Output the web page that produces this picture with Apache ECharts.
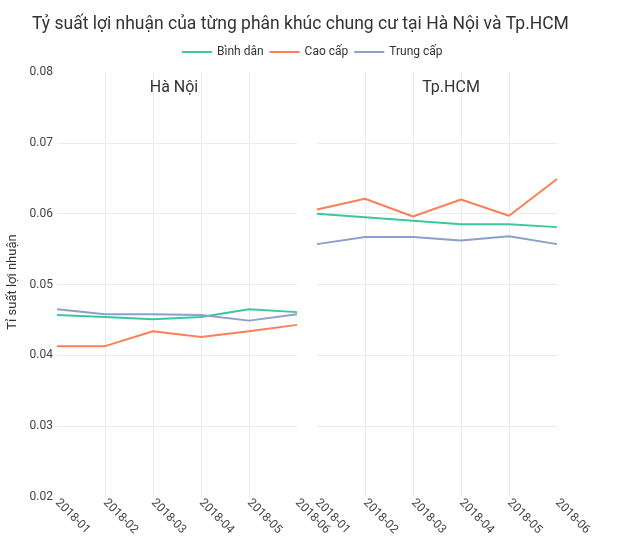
<!DOCTYPE html>
<html>
<head>
<meta charset="utf-8">
<script src="https://cdn.jsdelivr.net/npm/echarts@6/dist/echarts.min.js"></script>
<style>
html,body{margin:0;padding:0;background:#fff;}
#chart{width:644px;height:552px;}
</style>
</head>
<body>
<div id="chart"></div>
<script>
const categories = ['2018-01','2018-02','2018-03','2018-04','2018-05','2018-06'];
const seriesNames = ['Bình dân','Cao cấp','Trung cấp'];
const panelNames = ['Hà Nội','Tp.HCM'];
const hnBinhDan = [0.0457,0.0454,0.0451,0.0454,0.0465,0.0461];
const hnCaoCap = [0.0413,0.0413,0.0434,0.0426,0.0434,0.0443];
const hnTrungCap = [0.0465,0.0458,0.0458,0.0457,0.0449,0.0458];
const hcmBinhDan = [0.0600,0.0595,0.0590,0.0585,0.0585,0.0581];
const hcmCaoCap = [0.0606,0.0621,0.0596,0.0620,0.0597,0.0649];
const hcmTrungCap = [0.0557,0.0567,0.0567,0.0562,0.0568,0.0557];
const yTicks = [0.02,0.03,0.04,0.05,0.06,0.07,0.08];

const colors = ['#3cc89c','#fc8056','#8d9fcd'];
const FONT = 'Roboto';
const gridColor = '#ebebeb';

const chart = echarts.init(document.getElementById('chart'), null, {renderer:'canvas'});

function xAxis(gi){
  return {
    type:'category', gridIndex:gi, data:categories, boundaryGap:false,
    axisLine:{show:false}, axisTick:{show:false},
    axisLabel:{rotate:-45, color:'#444', fontFamily:FONT, fontSize:12, margin:4, interval:0},
    splitLine:{show:true, showMinLine:false, showMaxLine:false, lineStyle:{color:gridColor, width:1}}
  };
}
function yAxis(gi){
  return {
    type:'value', gridIndex:gi, min:yTicks[0], max:yTicks[yTicks.length-1], interval:0.01,
    name: gi===0 ? 'Tỉ suất lợi nhuận' : '',
    nameLocation:'middle', nameGap:38,
    nameTextStyle:{color:'#333', fontFamily:FONT, fontSize:13, padding:[0,0,0,5]},
    axisLine:{show:false}, axisTick:{show:false},
    axisLabel:{show: gi===0, color:'#444', fontFamily:FONT, fontSize:12, margin:4,
      formatter:v=>v.toFixed(2)},
    splitLine:{show:true, showMinLine:false, showMaxLine:false, lineStyle:{color:gridColor, width:1}}
  };
}
const hn = [hnBinhDan, hnCaoCap, hnTrungCap];
const hcm = [hcmBinhDan, hcmCaoCap, hcmTrungCap];
const series = [];
[hn, hcm].forEach((panel, gi) => {
  panel.forEach((arr, si) => {
    series.push({
      type:'line', name:seriesNames[si], xAxisIndex:gi, yAxisIndex:gi,
      data:arr, showSymbol:false, symbol:'none',
      lineStyle:{width:2, color:colors[si]}, itemStyle:{color:colors[si]},
      emphasis:{disabled:true}
    });
  });
});

chart.setOption({
  animation:false,
  backgroundColor:'#fff',
  color:colors,
  title:[
    {text:'Tỷ suất lợi nhuận của từng phân khúc chung cư tại Hà Nội và Tp.HCM', left:27, top:11,
      textStyle:{fontFamily:FONT, fontSize:17.5, fontWeight:'normal', color:'#333'}},
    {text:panelNames[0], left:169, top:75, textAlign:'center',
      textStyle:{fontFamily:FONT, fontSize:16, fontWeight:'normal', color:'#333'}},
    {text:panelNames[1], left:446, top:75, textAlign:'center',
      textStyle:{fontFamily:FONT, fontSize:16, fontWeight:'normal', color:'#333'}}
  ],
  legend:{
    data:seriesNames, left:177, top:41, icon:'rect', itemWidth:30, itemHeight:2, itemGap:6,
    textStyle:{fontFamily:FONT, fontSize:12, color:'#333'}
  },
  grid:[
    {left:57, top:72, width:240, height:425},
    {left:317, top:72, width:240, height:425}
  ],
  xAxis:[xAxis(0), xAxis(1)],
  yAxis:[yAxis(0), yAxis(1)],
  series:series
});
</script>
</body>
</html>
